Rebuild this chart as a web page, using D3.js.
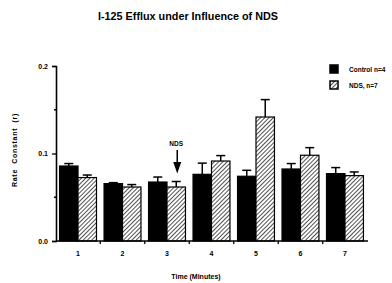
<!DOCTYPE html>
<html>
<head>
<meta charset="utf-8">
<script src="https://cdn.jsdelivr.net/npm/d3@7"></script>
<style>
  body { margin: 0; background: #fff; }
  svg text { font-family: "Liberation Sans", Arial, sans-serif; font-weight: bold; fill: #000; }
</style>
</head>
<body>
<div id="chart"></div>
<script>
// data
const minutes = ["1", "2", "3", "4", "5", "6", "7"];
const controlMean = [0.0857, 0.0656, 0.0674, 0.0762, 0.074, 0.0823, 0.077];
const controlErr  = [0.0028, 0.0011, 0.0057, 0.0128, 0.0068, 0.0062, 0.0069];
const ndsMean     = [0.0725, 0.0617, 0.0617, 0.0914, 0.1417, 0.098, 0.0747];
const ndsErr      = [0.0029, 0.0028, 0.0063, 0.0062, 0.0199, 0.0087, 0.0042];
const seriesNames = ["Control n=4", "NDS, n=7"];
const yTicks = [0.0, 0.1, 0.2];

const width = 392, height = 283;
const margin = {top: 66, right: 25, bottom: 42, left: 56};

const svg = d3.select("#chart").append("svg")
    .attr("width", width)
    .attr("height", height);

// hatch pattern for the NDS bars
const defs = svg.append("defs");
const pat = defs.append("pattern")
    .attr("id", "hatch")
    .attr("patternUnits", "userSpaceOnUse")
    .attr("width", 3).attr("height", 3)
    .attr("patternTransform", "rotate(45)");
pat.append("rect").attr("width", 3).attr("height", 3).attr("fill", "#fff");
pat.append("line")
    .attr("x1", 0).attr("y1", 0).attr("x2", 0).attr("y2", 3)
    .attr("stroke", "#333").attr("stroke-width", 1.7);

const x = d3.scaleBand()
    .domain(minutes)
    .range([margin.left, width - margin.right])
    .paddingInner(0.17)
    .paddingOuter(0.08);

const x1 = d3.scaleBand()
    .domain([0, 1])
    .range([0, x.bandwidth()]);

const y = d3.scaleLinear()
    .domain([0, 0.2])
    .range([height - margin.bottom, margin.top]);

// title
svg.append("text")
    .attr("x", 188).attr("y", 20)
    .attr("text-anchor", "middle")
    .style("font-size", "10.8px")
    .text("I-125 Efflux under Influence of NDS");

const rows = minutes.map((m, i) => ({
  m: m,
  vals: [
    {s: 0, v: controlMean[i], e: controlErr[i]},
    {s: 1, v: ndsMean[i], e: ndsErr[i]}
  ]
}));

const groups = svg.append("g").selectAll("g")
    .data(rows).enter().append("g")
    .attr("transform", d => `translate(${x(d.m)},0)`);

// error bars (only the upper half shows above the bar)
groups.selectAll(".err")
    .data(d => d.vals).enter().append("g")
    .each(function(d) {
      const g = d3.select(this);
      const cx = x1(d.s) + x1.bandwidth() / 2;
      g.append("line")
        .attr("x1", cx).attr("x2", cx)
        .attr("y1", y(d.v)).attr("y2", y(d.v + d.e))
        .attr("stroke", "#000").attr("stroke-width", 1.5);
      g.append("line")
        .attr("x1", cx - 4.5).attr("x2", cx + 4.5)
        .attr("y1", y(d.v + d.e)).attr("y2", y(d.v + d.e))
        .attr("stroke", "#000").attr("stroke-width", 1.5);
    });

groups.selectAll("rect")
    .data(d => d.vals).enter().append("rect")
    .attr("x", d => x1(d.s))
    .attr("width", x1.bandwidth())
    .attr("y", d => y(d.v))
    .attr("height", d => y(0) - y(d.v))
    .attr("fill", d => d.s === 0 ? "#000" : "url(#hatch)")
    .attr("stroke", "#000")
    .attr("stroke-width", 1.2);

// y axis
const yAxis = d3.axisLeft(y)
    .tickValues(yTicks)
    .tickFormat(d3.format(".1f"))
    .tickSize(4);
const gy = svg.append("g")
    .attr("transform", `translate(${margin.left},0)`)
    .call(yAxis);
gy.select(".domain").attr("stroke-width", 1.6);
gy.selectAll(".tick line").attr("stroke-width", 1.3);
gy.selectAll("text").style("font-size", "7px").attr("dx", "-1");
// minor ticks
svg.append("g").selectAll("line")
    .data([0.05, 0.15]).enter().append("line")
    .attr("x1", margin.left - 2).attr("x2", margin.left)
    .attr("y1", d => y(d)).attr("y2", d => y(d))
    .attr("stroke", "#000").attr("stroke-width", 1.3);

// x axis
const gx = svg.append("g")
    .attr("transform", `translate(0,${y(0)})`)
    .call(d3.axisBottom(x).tickSize(0).tickPadding(10));
gx.select(".domain").attr("stroke-width", 1.6).attr("d", `M${margin.left},0H${width - margin.right + 1}`);
gx.selectAll("text").style("font-size", "7px");
// small ticks between groups
gx.selectAll(".sep")
    .data(minutes.slice(1)).enter().append("line")
    .attr("class", "sep")
    .attr("x1", d => x(d) - x.step() * x.paddingInner() / 2)
    .attr("x2", d => x(d) - x.step() * x.paddingInner() / 2)
    .attr("y1", 0).attr("y2", 3)
    .attr("stroke", "#000").attr("stroke-width", 1.3);

// axis titles
svg.append("text")
    .attr("transform", `translate(17,150) rotate(-90)`)
    .attr("text-anchor", "middle")
    .style("font-size", "7px")
    .style("letter-spacing", "0.7px")
    .attr("xml:space", "preserve")
    .text("Rate  Constant  (r)");

svg.append("text")
    .attr("x", 196).attr("y", 279)
    .attr("text-anchor", "middle")
    .style("font-size", "7px")
    .text("Time (Minutes)");

// NDS arrow annotation
const ax = x("3") + x1(1) + x1.bandwidth() / 2 + 1;
svg.append("text")
    .attr("x", ax - 1).attr("y", 146)
    .attr("text-anchor", "middle")
    .style("font-size", "6.5px")
    .text("NDS");
svg.append("line")
    .attr("x1", ax).attr("x2", ax)
    .attr("y1", 150).attr("y2", 166)
    .attr("stroke", "#000").attr("stroke-width", 1.5);
svg.append("path")
    .attr("d", `M${ax - 4},${162}L${ax + 4},${162}L${ax},${y(ndsMean[2] + ndsErr[2]) - 8}Z`)
    .attr("fill", "#000");

// legend
const legend = svg.append("g")
    .attr("transform", "translate(330,65)");
const li = legend.selectAll("g")
    .data(seriesNames).enter().append("g")
    .attr("transform", (d, i) => `translate(0,${i * 16})`);
li.append("rect")
    .attr("width", 8).attr("height", 8)
    .attr("fill", (d, i) => i === 0 ? "#000" : "url(#hatch)")
    .attr("stroke", "#000").attr("stroke-width", 1.5);
li.append("text")
    .attr("x", 19).attr("y", 6.5)
    .style("font-size", "6.5px")
    .text(d => d);
</script>
</body>
</html>
